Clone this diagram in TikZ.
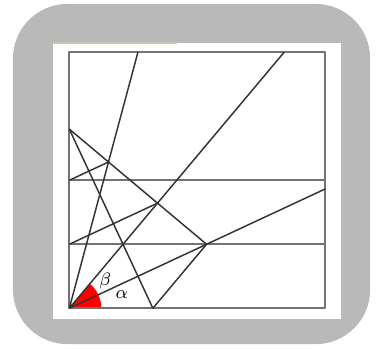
\documentclass[tikz,border=0pt]{standalone}
\definecolor{stripcol}{RGB}{200,200,175}
\begin{document}
\begin{tikzpicture}[line join=round]
\useasboundingbox(-1.083,-0.636)rectangle(4.886,4.817);
\fill[gray!55,rounded corners=0.85cm](-0.88,-0.56)rectangle(4.70,4.755);
\fill[white](-0.255,-0.167)rectangle(4.245,4.145);
\draw[line width=1.2pt,stripcol](-0.255,4.145)--(1.683,4.145);
\coordinate(O)at(0,0);
\coordinate(T1)at({4/tan(75)},4);
\coordinate(T2)at({4/tan(50)},4);
\coordinate(E3)at(4,{4*tan(25)});
\coordinate(P)at({1/tan(25)},1);
\coordinate(M)at({1/tan(50)},1);
\coordinate(B)at({1/tan(25)-1/tan(50)},0);
\coordinate(L)at(0,{1+tan(40)/tan(25)});
\coordinate(Q)at({1/(tan(50)-tan(25))},{tan(50)/(tan(50)-tan(25))});
\coordinate(R)at({2/(tan(75)-tan(25))},{2*tan(75)/(tan(75)-tan(25))});
\coordinate(H1)at(0,1);\coordinate(H1r)at(4,1);
\coordinate(H2)at(0,2);\coordinate(H2r)at(4,2);
\fill[red](O)--(0:0.5)arc(0:50:0.5)--cycle;
\draw[black!55,line width=0.8pt](O)rectangle(4,4);
\draw[black!55,line width=0.8pt](H1)--(H1r)(H2)--(H2r);
\draw[black!80,line width=0.65pt](O)--(T1)(O)--(T2)(O)--(E3);
\draw[black!80,line width=0.65pt](L)--(R)--(Q)--(P)--(B);
\draw[black!80,line width=0.65pt](L)--(M)--(B);
\draw[black!80,line width=0.65pt](H2)--(R)(H1)--(Q);
\node[font=\footnotesize]at(0.82,0.21){$\alpha$};
\node[font=\footnotesize]at(0.56,0.43){$\beta$};
\end{tikzpicture}
\end{document}
